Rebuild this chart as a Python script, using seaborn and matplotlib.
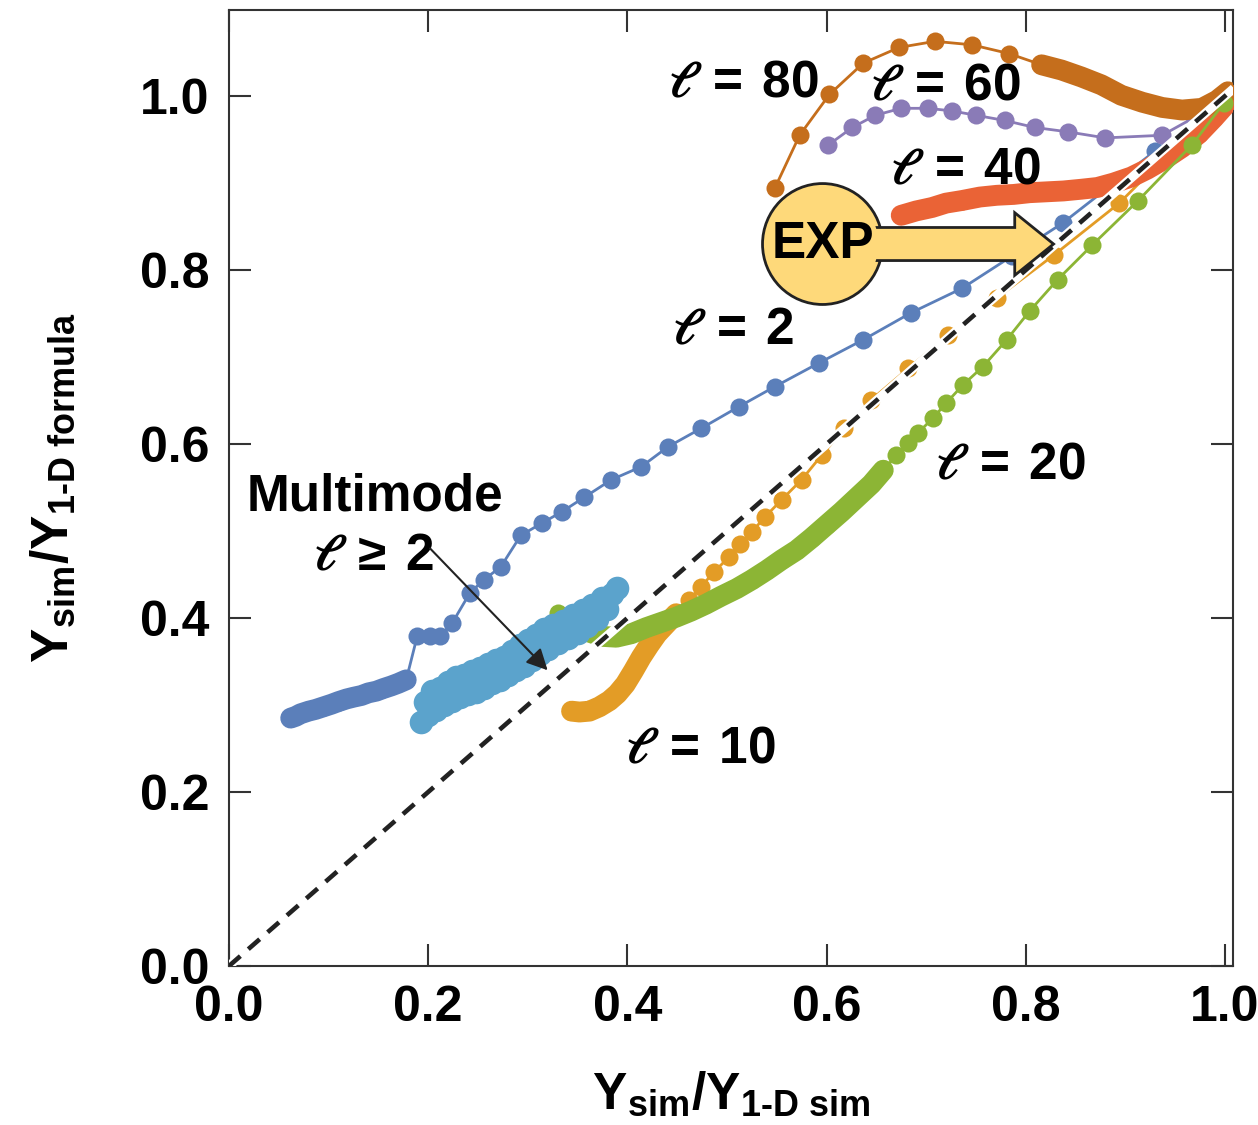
import numpy as np
import pandas as pd
import matplotlib
matplotlib.use('Agg')
import matplotlib.pyplot as plt
import seaborn as sns
from matplotlib.patches import Ellipse, Polygon

# l = 2 (single mode)
l2_x = [0.062, 0.067, 0.072, 0.080, 0.087, 0.095, 0.103, 0.110, 0.118, 0.125, 0.133, 0.140,
        0.148, 0.155, 0.163, 0.170, 0.178, 0.189, 0.202, 0.212, 0.224, 0.242, 0.256, 0.273,
        0.293, 0.314, 0.334, 0.357, 0.384, 0.414, 0.441, 0.474, 0.512, 0.548, 0.592, 0.637,
        0.685, 0.736, 0.786, 0.837, 0.930, 0.970, 1.002]
l2_y = [0.285, 0.287, 0.290, 0.293, 0.295, 0.298, 0.301, 0.304, 0.307, 0.309, 0.311, 0.314,
        0.316, 0.319, 0.322, 0.325, 0.329, 0.379, 0.379, 0.379, 0.394, 0.429, 0.444, 0.459,
        0.495, 0.509, 0.522, 0.539, 0.559, 0.574, 0.597, 0.618, 0.643, 0.666, 0.693, 0.720,
        0.751, 0.779, 0.816, 0.854, 0.937, 0.971, 1.003]

# multimode l >= 2
mm_x = [0.193, 0.197, 0.200, 0.204, 0.208, 0.212, 0.216, 0.220, 0.224, 0.228, 0.232, 0.236,
        0.240, 0.244, 0.248, 0.252, 0.256, 0.260, 0.264, 0.268, 0.272, 0.276, 0.280, 0.284,
        0.288, 0.292, 0.296, 0.300, 0.304, 0.308, 0.312, 0.316, 0.320, 0.325, 0.330, 0.335,
        0.340, 0.345, 0.350, 0.355, 0.360, 0.365, 0.370, 0.375, 0.380, 0.385, 0.390]
mm_y = [0.281, 0.304, 0.289, 0.316, 0.294, 0.320, 0.300, 0.326, 0.305, 0.332, 0.309, 0.334,
        0.313, 0.339, 0.315, 0.343, 0.320, 0.347, 0.325, 0.352, 0.329, 0.355, 0.335, 0.362,
        0.340, 0.369, 0.345, 0.375, 0.352, 0.381, 0.359, 0.387, 0.365, 0.392, 0.371, 0.397,
        0.377, 0.403, 0.383, 0.409, 0.391, 0.415, 0.399, 0.423, 0.411, 0.428, 0.434]

# l = 10
l10_x = [0.344, 0.352, 0.362, 0.372, 0.382, 0.390, 0.398, 0.406, 0.414, 0.422, 0.430, 0.439,
         0.449, 0.462, 0.474, 0.487, 0.502, 0.513, 0.525, 0.538, 0.555, 0.575, 0.595, 0.618,
         0.645, 0.682, 0.722, 0.771, 0.828, 0.894, 0.999]
l10_y = [0.293, 0.292, 0.293, 0.298, 0.305, 0.313, 0.324, 0.339, 0.355, 0.369, 0.382, 0.393,
         0.405, 0.421, 0.436, 0.453, 0.470, 0.485, 0.499, 0.516, 0.536, 0.559, 0.587, 0.618,
         0.651, 0.687, 0.725, 0.768, 0.817, 0.877, 0.998]

# l = 20
l20_x = [0.330, 0.344, 0.359, 0.374, 0.389, 0.404, 0.419, 0.434, 0.449, 0.464, 0.479, 0.494,
         0.510, 0.525, 0.540, 0.555, 0.570, 0.585, 0.600, 0.615, 0.630, 0.645, 0.657, 0.670,
         0.682, 0.692, 0.707, 0.720, 0.737, 0.757, 0.781, 0.804, 0.832, 0.867, 0.913, 0.967,
         0.999]
l20_y = [0.406, 0.390, 0.385, 0.379, 0.378, 0.382, 0.389, 0.395, 0.401, 0.408, 0.416, 0.425,
         0.434, 0.444, 0.455, 0.467, 0.478, 0.492, 0.507, 0.522, 0.538, 0.554, 0.570, 0.587,
         0.601, 0.613, 0.630, 0.647, 0.668, 0.689, 0.720, 0.753, 0.789, 0.829, 0.880, 0.944,
         0.992]

# l = 40
l40_x = [0.675, 0.690, 0.706, 0.720, 0.736, 0.754, 0.771, 0.788, 0.804, 0.821, 0.838, 0.856,
         0.872, 0.888, 0.906, 0.922, 0.940, 0.957, 0.974, 0.989, 1.003]
l40_y = [0.863, 0.868, 0.872, 0.877, 0.880, 0.884, 0.886, 0.887, 0.889, 0.890, 0.891, 0.893,
         0.895, 0.900, 0.907, 0.916, 0.928, 0.941, 0.957, 0.975, 0.993]

# l = 60
l60_x = [0.602, 0.626, 0.649, 0.675, 0.702, 0.726, 0.750, 0.779, 0.809, 0.842, 0.880, 0.937,
         0.970, 1.002]
l60_y = [0.944, 0.964, 0.978, 0.986, 0.986, 0.983, 0.978, 0.972, 0.964, 0.959, 0.952, 0.955,
         0.976, 1.005]

# l = 80
l80_x = [0.548, 0.573, 0.603, 0.637, 0.673, 0.709, 0.746, 0.783, 0.816, 0.836, 0.856, 0.876,
         0.896, 0.917, 0.937, 0.957, 0.977, 0.992, 1.003]
l80_y = [0.894, 0.955, 1.002, 1.038, 1.056, 1.063, 1.059, 1.049, 1.036, 1.030, 1.022, 1.013,
         1.001, 0.993, 0.987, 0.984, 0.986, 0.995, 1.005]

diag = [0.0, 1.009]
ticks = [0.0, 0.2, 0.4, 0.6, 0.8, 1.0]

sns.set_style('ticks')
plt.rcParams['font.family'] = ['Liberation Sans', 'DejaVu Sans']
plt.rcParams['font.weight'] = 'bold'
plt.rcParams['text.color'] = 'black'
plt.rcParams['axes.labelcolor'] = 'black'
plt.rcParams['xtick.color'] = 'black'
plt.rcParams['ytick.color'] = 'black'
plt.rcParams['mathtext.fontset'] = 'custom'
plt.rcParams['mathtext.rm'] = 'Liberation Sans'
plt.rcParams['mathtext.bf'] = 'Liberation Sans:bold'
plt.rcParams['mathtext.it'] = 'STIXGeneral:italic'
plt.rcParams['mathtext.fallback'] = 'stix'

fig = plt.figure(figsize=(12.58, 11.25), dpi=100)
ax = fig.add_axes([0.182, 0.1413, 0.798, 0.8498])

MS = 13
BAND = 15


def draw(x, y, color, band=None, z=3):
    df = pd.DataFrame({'x': x, 'y': y})
    sns.lineplot(data=df, x='x', y='y', sort=False, estimator=None, color=color,
                 linewidth=2, marker='o', markersize=MS, markeredgewidth=0,
                 ax=ax, zorder=z)
    if band is not None:
        sub = df.iloc[band[0]:band[1]]
        sns.lineplot(data=sub, x='x', y='y', sort=False, estimator=None, color=color,
                     linewidth=BAND, solid_capstyle='round', solid_joinstyle='round',
                     ax=ax, zorder=z)


draw(l2_x, l2_y, '#5B7FBA', band=(0, 17), z=2)
draw(l10_x, l10_y, '#E39C26', band=(0, 13), z=3)
draw(l20_x, l20_y, '#8CB535', band=(1, 23), z=4)
draw(l60_x, l60_y, '#8A7BB7', z=3)
draw(l40_x, l40_y, '#EA6336', band=(0, len(l40_x)), z=3)
draw(l80_x, l80_y, '#C56E1C', band=(8, len(l80_x)), z=3)
sns.scatterplot(x=mm_x, y=mm_y, color='#5BA3CC', s=17 ** 2, linewidth=0, ax=ax, zorder=5)

# 1:1 reference line
ax.plot(diag, diag, color='white', lw=6.5, zorder=6, solid_capstyle='butt')
ax.plot(diag, diag, color='#222222', lw=3.3, dashes=(3.3, 2.3), zorder=6.1)

# EXP marker
cx, cy = 0.596, 0.830
ax.add_patch(Ellipse((cx, cy), 0.1205, 0.139, facecolor='#FED97A', edgecolor='#222222',
                     lw=2, zorder=8))
arrow = [(cx, cy - 0.019), (0.789, cy - 0.019), (0.789, cy - 0.036), (0.828, cy),
         (0.789, cy + 0.036), (0.789, cy + 0.019), (cx, cy + 0.019)]
ax.add_patch(Polygon(arrow, closed=True, facecolor='#FED97A', edgecolor='#222222',
                     lw=2, zorder=8.1, joinstyle='miter'))
ax.add_patch(Ellipse((cx, cy), 0.112, 0.130, facecolor='#FED97A', edgecolor='none',
                     zorder=8.2))
ax.text(cx, cy, 'EXP', fontsize=37, fontweight='bold', ha='center', va='center', zorder=9)

# labels
fs = 37


def ell(s, x, y, ha='left'):
    ax.text(x, y, s, fontsize=fs, fontweight='bold', ha=ha, va='baseline', zorder=9)


ell(r'$\ell\;=\;\mathbf{80}$', 0.441, 0.998)
ell(r'$\ell\;=\;\mathbf{60}$', 0.644, 0.995)
ell(r'$\ell\;=\;\mathbf{40}$', 0.664, 0.899)
ell(r'$\ell\;=\;\mathbf{2}$', 0.445, 0.714)
ell(r'$\ell\;=\;\mathbf{20}$', 0.709, 0.559)
ell(r'$\ell\;=\;\mathbf{10}$', 0.398, 0.233)
ell('Multimode', 0.147, 0.524, ha='center')
ell(r'$\ell\;\geq\;\mathbf{2}$', 0.145, 0.455, ha='center')
ax.annotate('', xy=(0.320, 0.340), xytext=(0.202, 0.480),
            arrowprops=dict(arrowstyle='-|>', lw=1.5, color='#222222', mutation_scale=32,
                            shrinkA=0, shrinkB=0), zorder=9)

ax.set_xlim(0, 1.008)
ax.set_ylim(0, 1.099)
ax.set_xticks(ticks)
ax.set_yticks(ticks)
ax.set_xticklabels([f'{t:.1f}' for t in ticks])
ax.set_yticklabels([f'{t:.1f}' for t in ticks])
ax.tick_params(direction='in', length=16, width=1.5, top=True, right=True,
               labelsize=36, pad=14, color='#333333', labelcolor='black')
for lab in ax.get_xticklabels() + ax.get_yticklabels():
    lab.set_fontweight('bold')
for sp in ax.spines.values():
    sp.set_linewidth(1.5)
    sp.set_color('#333333')

hy = '\u2010'
ax.set_xlabel(r'$\mathbf{Y}_{\mathbf{sim}}/\mathbf{Y}_{\mathbf{1' + hy + r'D\ sim}}$',
              fontsize=37, labelpad=28)
ax.set_ylabel(r'$\mathbf{Y}_{\mathbf{sim}}/\mathbf{Y}_{\mathbf{1' + hy + r'D\ formula}}$',
              fontsize=37, labelpad=44)

fig.savefig('out.png', dpi=100)
